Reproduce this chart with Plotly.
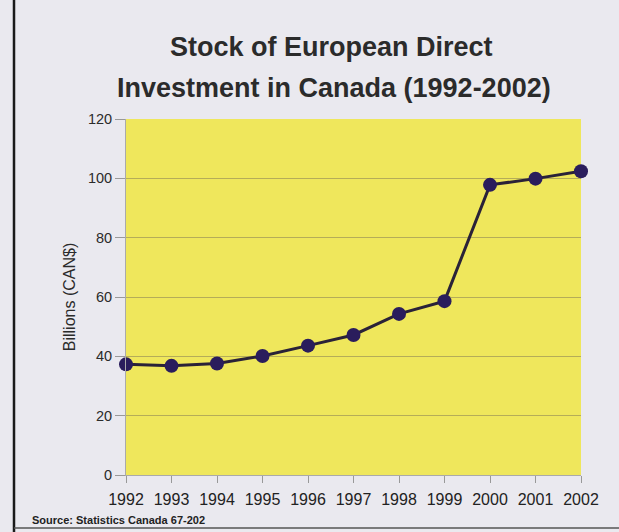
import plotly.graph_objects as go

years = ["1992", "1993", "1994", "1995", "1996", "1997", "1998", "1999", "2000", "2001", "2002"]
stock = [37.3, 36.8, 37.6, 40.1, 43.6, 47.2, 54.3, 58.6, 97.8, 99.9, 102.4]
y_ticks = [0, 20, 40, 60, 80, 100, 120]

title_lines = ["Stock of European Direct", "Investment in Canada (1992-2002)"]
y_title = "Billions (CAN$)"
source = "Source: Statistics Canada 67-202"

W, H = 619, 532
L, R, T, B = 126, 38, 119, 57
PW, PH = W - L - R, H - T - B
font = "Liberation Sans, Arial, sans-serif"


def px(x):
    return (x - L) / PW


def py(y):
    return (H - B - y) / PH


fig = go.Figure()
fig.add_trace(go.Scatter(
    x=list(range(len(years))), y=stock, mode="lines+markers",
    line=dict(color="#2a2238", width=3),
    marker=dict(color="#2a1d5c", size=14, line=dict(width=0)),
    cliponaxis=False, showlegend=False, hoverinfo="skip",
))

fig.update_layout(
    width=W, height=H,
    margin=dict(l=L, r=R, t=T, b=B, pad=0),
    paper_bgcolor="#eae9ef",
    plot_bgcolor="#efe75c",
    font=dict(family=font, color="#2b2b2b"),
    xaxis=dict(
        range=[0, len(years) - 1], tickmode="array",
        tickvals=list(range(len(years))), ticktext=years,
        tickfont=dict(size=16, color="#222"),
        ticks="outside", ticklen=7, tickcolor="#999",
        ticklabelstandoff=3,
        showgrid=False, zeroline=False,
        showline=True, linecolor="#aaa", linewidth=1,
    ),
    yaxis=dict(
        range=[0, 120], tickvals=y_ticks,
        tickfont=dict(size=14.5, color="#2b2b2b"),
        ticks="outside", ticklen=10, tickcolor="#999",
        showgrid=True, gridcolor="#b5ad58", gridwidth=1,
        zeroline=False, showline=True, linecolor="#aaa", linewidth=1,
        title=dict(text=y_title, font=dict(size=16, color="#2b2b2b"), standoff=8),
    ),
    shapes=[
        dict(type="line", xref="paper", yref="paper",
             x0=px(14), x1=px(14), y0=py(532), y1=py(0),
             line=dict(color="#1a1a1a", width=2.5)),
        dict(type="line", xref="paper", yref="paper",
             x0=px(14), x1=px(619), y0=py(528), y1=py(528),
             line=dict(color="#555", width=1.5)),
    ],
    annotations=[
        dict(text="<b>" + title_lines[0] + "</b>", xref="paper", yref="paper",
             x=px(331), y=py(47), xanchor="center", yanchor="middle",
             showarrow=False, font=dict(size=27, color="#2b2b2b", family=font)),
        dict(text="<b>" + title_lines[1] + "</b>", xref="paper", yref="paper",
             x=px(334), y=py(88), xanchor="center", yanchor="middle",
             showarrow=False, font=dict(size=27, color="#2b2b2b", family=font)),
        dict(text="<b>" + source + "</b>", xref="paper", yref="paper",
             x=px(30), y=py(520), xanchor="left", yanchor="middle",
             showarrow=False, font=dict(size=11, color="#222", family=font)),
    ],
)

fig.write_html("out.html", config={"displayModeBar": False},
               post_script="document.body.style.margin='0';document.body.style.overflow='hidden';")
